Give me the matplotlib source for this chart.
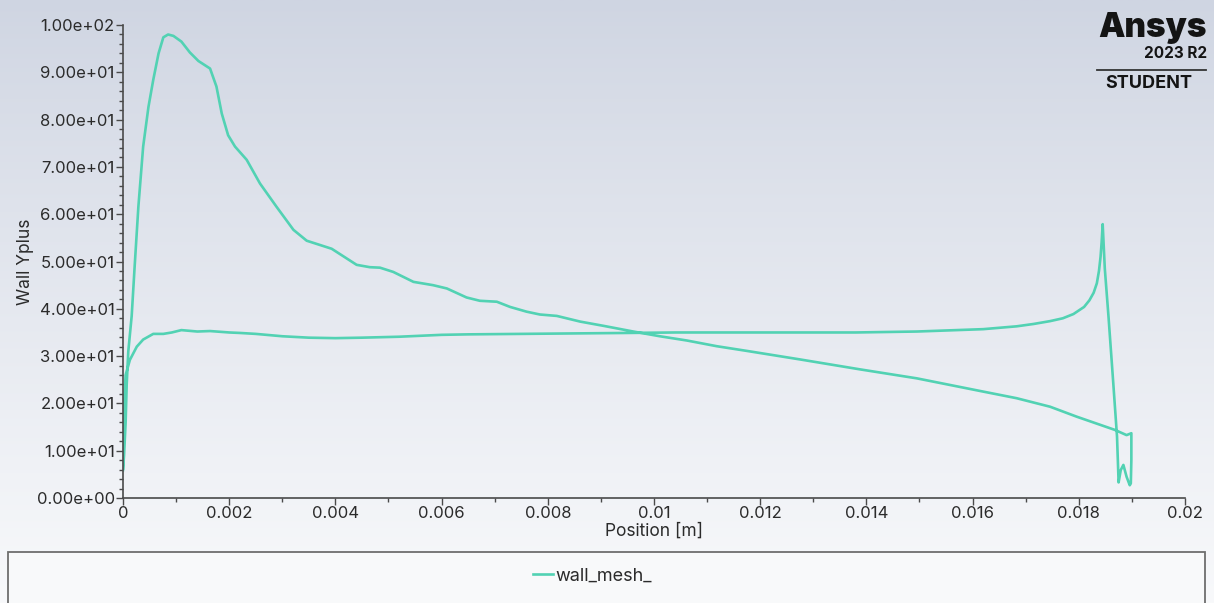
import numpy as np
import matplotlib
matplotlib.use('Agg')
import matplotlib.pyplot as plt
from matplotlib.ticker import MultipleLocator, FormatStrFormatter
from matplotlib.patches import Rectangle

plt.rcParams['font.family'] = ['Inter', 'DejaVu Sans']

# Wall y+ along the wall (one closed polyline)
position = [
    0.0, 0.00002, 0.00005, 0.00007, 0.0001, 0.000164, 0.00022, 0.00029, 0.00038, 0.00048,
    0.00057, 0.00067, 0.00076, 0.00085, 0.00095, 0.0011, 0.00126, 0.00142, 0.00164, 0.00176,
    0.00186, 0.00198, 0.00211, 0.00233, 0.00258, 0.00289, 0.00321, 0.00346, 0.00393, 0.0044,
    0.00465, 0.00484, 0.00509, 0.00547, 0.00584, 0.0061, 0.00647, 0.00672, 0.00704, 0.00729,
    0.0076, 0.00785, 0.00817, 0.00861, 0.00905, 0.00961, 0.01011, 0.01062, 0.01118, 0.01175,
    0.01275, 0.01388, 0.01495, 0.0162, 0.01683, 0.01746, 0.01796, 0.01868, 0.0189, 0.01899,
    0.01899, 0.01898, 0.01896, 0.0189, 0.01884, 0.01879, 0.01875, 0.01872, 0.01865, 0.01856,
    0.01849, 0.01845,
    0.01843, 0.01841, 0.01838, 0.01834, 0.01828, 0.0182, 0.0181, 0.0179, 0.0177, 0.01746,
    0.01715, 0.01683, 0.0162, 0.01495, 0.0138, 0.0127, 0.0115, 0.0104, 0.0095, 0.0085,
    0.0075, 0.0065, 0.006, 0.0052, 0.0045, 0.004, 0.0035, 0.003, 0.0025, 0.0022,
    0.002, 0.00164, 0.0014, 0.0011, 0.00092, 0.00076, 0.00057, 0.00038, 0.00026, 0.00013,
    0.00005, 0.00002, 0.0,
]
yplus = [
    5.9, 9.0, 16.0, 24.0, 31.0, 38.5, 49.0, 61.6, 74.3, 82.7,
    88.4, 94.0, 97.4, 98.0, 97.7, 96.5, 94.2, 92.4, 90.8, 87.0,
    81.3, 76.7, 74.3, 71.5, 66.5, 61.6, 56.7, 54.4, 52.7, 49.3,
    48.8, 48.7, 47.8, 45.7, 45.0, 44.3, 42.4, 41.7, 41.5, 40.4,
    39.4, 38.8, 38.5, 37.3, 36.4, 35.2, 34.2, 33.3, 32.1, 31.1,
    29.3, 27.2, 25.3, 22.5, 21.1, 19.3, 17.2, 14.4, 13.3, 13.7,
    8.0, 3.1, 2.7, 4.5, 7.0, 5.9, 3.3, 13.0, 24.2, 38.3,
    48.5, 57.9,
    54.0, 51.0, 48.0, 45.4, 43.4, 41.8, 40.4, 38.9, 38.0, 37.4,
    36.8, 36.3, 35.7, 35.2, 35.0, 35.0, 35.0, 35.0, 34.9, 34.8,
    34.7, 34.6, 34.5, 34.1, 33.9, 33.8, 33.9, 34.2, 34.7, 34.9,
    35.0, 35.3, 35.2, 35.5, 35.0, 34.7, 34.7, 33.5, 32.0, 29.2,
    26.0, 20.0, 6.2,
]

line_color = '#52d2b3'
axis_color = '#4a4a4a'
text_color = '#2b2b2b'

fig = plt.figure(figsize=(12.14, 6.03), dpi=100)

# background gradient
bg = fig.add_axes([0, 0, 1, 1], zorder=-10)
grad = np.linspace(0, 1, 256).reshape(-1, 1)
top = np.array([207, 213, 226]) / 255
bottom = np.array([248, 249, 251]) / 255
img = top + (bottom - top) * grad[..., None] ** 0.9
bg.imshow(img, aspect='auto', extent=[0, 1, 0, 1])
bg.axis('off')

ax = fig.add_axes([0.1013, 0.1741, 0.8748, 0.7844])
ax.patch.set_alpha(0)
ax.plot(position, yplus, color=line_color, lw=1.9, label='wall_mesh_')

ax.set_xlim(0, 0.02)
ax.set_ylim(0, 100)
ax.xaxis.set_minor_locator(MultipleLocator(0.001))
ax.yaxis.set_major_locator(MultipleLocator(10))
ax.yaxis.set_minor_locator(MultipleLocator(2))
ax.yaxis.set_major_formatter(FormatStrFormatter('%.2e'))
ax.set_xticks(np.arange(0, 0.0201, 0.002))
ax.set_xticklabels(['0', '0.002', '0.004', '0.006', '0.008', '0.01',
                    '0.012', '0.014', '0.016', '0.018', '0.02'])

for s in ['top', 'right']:
    ax.spines[s].set_visible(False)
for s in ['left', 'bottom']:
    ax.spines[s].set_color(axis_color)
    ax.spines[s].set_linewidth(1.2)

ax.tick_params(which='major', length=5, width=1, color=axis_color,
               labelsize=12, labelcolor=text_color, pad=1)
ax.tick_params(which='minor', length=3, width=1, color=axis_color)

ax.set_xlabel('Position [m]', fontsize=12.5, color=text_color, labelpad=1)
ax.set_ylabel('Wall Yplus', fontsize=12.5, color=text_color, labelpad=2)

# legend box
fig.patches.append(Rectangle((8 / 1214, -0.01), 1197 / 1214, 1 - 552 / 603 + 0.01,
                             transform=fig.transFigure, facecolor='#f8f9fa',
                             edgecolor='#6e6e6e', lw=1.3, zorder=1))
fig.legend(loc='center', bbox_to_anchor=(0.488, 1 - 576 / 603), frameon=False,
           fontsize=13, handlelength=1.1, handletextpad=0.1,
           labelcolor=text_color)

# logo
fig.text(1207 / 1214, 1 - 37 / 603, 'Ansys', ha='right', va='baseline',
         fontsize=24, fontweight='black', color='#141414')
fig.text(1207 / 1214, 1 - 58 / 603, '2023 R2', ha='right', va='baseline',
         fontsize=11, fontweight='bold', color='#141414')
fig.add_artist(plt.Line2D([1097 / 1214, 1206 / 1214], [1 - 70 / 603, 1 - 70 / 603],
                          transform=fig.transFigure, color='#333333', lw=1.3))
fig.text(1149 / 1214, 1 - 88 / 603, 'STUDENT', ha='center', va='baseline',
         fontsize=13, fontweight='bold', color='#141414')

fig.savefig('out.png', dpi=100)
